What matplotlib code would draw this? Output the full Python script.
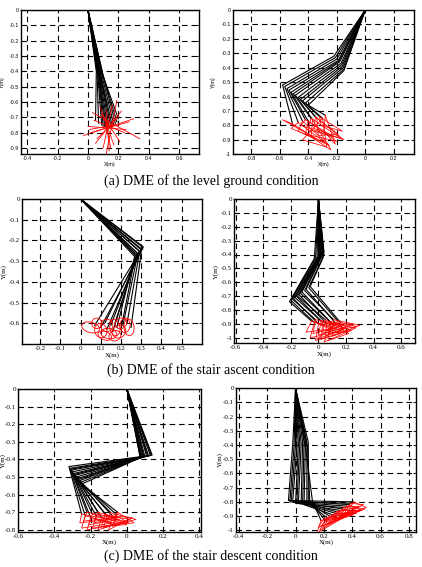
import numpy as np
import matplotlib
matplotlib.use('Agg')
import matplotlib.pyplot as plt
from matplotlib.patches import Ellipse

plt.rcParams['axes.unicode_minus'] = False

# ---- panel (a) left : level ground, knee / ankle, red foot lines ----
a1_knee_x = [0.055, 0.06, 0.065, 0.07, 0.072, 0.075, 0.08, 0.085, 0.088, 0.09, 0.095, 0.10, 0.098, 0.092]
a1_knee_y = [-0.40, -0.41, -0.42, -0.42, -0.43, -0.43, -0.44, -0.44, -0.45, -0.45, -0.44, -0.43, -0.42, -0.41]
a1_ankle_x = [0.05, 0.07, 0.09, 0.10, 0.11, 0.12, 0.13, 0.14, 0.15, 0.16, 0.17, 0.18, 0.19, 0.20]
a1_ankle_y = [-0.72, -0.74, -0.75, -0.76, -0.76, -0.77, -0.77, -0.77, -0.76, -0.76, -0.75, -0.74, -0.73, -0.71]
a1_heel_x = [-0.03, 0.03, 0.12, 0.00, 0.05, 0.17, 0.02, 0.10, 0.04, 0.14, 0.06, 0.09, 0.01, 0.15]
a1_heel_y = [-0.82, -0.67, -0.94, -0.76, -0.87, -0.88, -0.80, -0.90, -0.72, -0.92, -0.84, -0.68, -0.78, -0.90]
a1_toe_x = [0.30, 0.34, 0.19, 0.25, 0.22, 0.08, 0.27, 0.16, 0.24, 0.12, 0.20, 0.21, 0.18, 0.11]
a1_toe_y = [-0.71, -0.84, -0.59, -0.78, -0.66, -0.63, -0.73, -0.62, -0.80, -0.66, -0.70, -0.86, -0.75, -0.70]

# ---- panel (a) right : level ground, three joints + foot triangle ----
a2_j1_x = [-0.22, -0.21, -0.20, -0.19, -0.185, -0.18, -0.17, -0.165, -0.16, -0.155, -0.15, -0.15]
a2_j1_y = [-0.32, -0.33, -0.34, -0.35, -0.355, -0.36, -0.37, -0.38, -0.39, -0.40, -0.41, -0.42]
a2_j2_x = [-0.58, -0.565, -0.55, -0.535, -0.52, -0.505, -0.49, -0.47, -0.455, -0.44, -0.42, -0.40]
a2_j2_y = [-0.52, -0.53, -0.545, -0.555, -0.57, -0.58, -0.59, -0.605, -0.62, -0.63, -0.645, -0.66]
a2_j3_x = [-0.51, -0.47, -0.44, -0.42, -0.40, -0.38, -0.37, -0.35, -0.34, -0.32, -0.30, -0.28]
a2_j3_y = [-0.79, -0.78, -0.77, -0.76, -0.77, -0.75, -0.76, -0.74, -0.75, -0.74, -0.75, -0.73]
a2_heel_x = [-0.58, -0.52, -0.47, -0.45, -0.42, -0.40, -0.38, -0.36, -0.33, -0.31, -0.44, -0.29]
a2_heel_y = [-0.76, -0.82, -0.84, -0.80, -0.86, -0.83, -0.88, -0.82, -0.87, -0.80, -0.90, -0.84]
a2_toe_x = [-0.33, -0.28, -0.25, -0.22, -0.20, -0.17, -0.24, -0.15, -0.19, -0.16, -0.27, -0.21]
a2_toe_y = [-0.90, -0.92, -0.94, -0.88, -0.91, -0.89, -0.97, -0.90, -0.86, -0.84, -0.95, -0.93]

# ---- panel (b) left : stair ascent, knee / ankle + red foot loops ----
b1_knee_x = [0.31, 0.31, 0.30, 0.30, 0.29, 0.28, 0.28, 0.27, 0.27, 0.28, 0.29, 0.30]
b1_knee_y = [-0.23, -0.235, -0.24, -0.245, -0.25, -0.26, -0.27, -0.27, -0.28, -0.28, -0.27, -0.26]
b1_ankle_x = [0.07, 0.10, 0.12, 0.13, 0.15, 0.16, 0.17, 0.18, 0.20, 0.21, 0.23, 0.25]
b1_ankle_y = [-0.61, -0.62, -0.60, -0.63, -0.61, -0.64, -0.60, -0.62, -0.63, -0.61, -0.60, -0.62]
b1_loop_x = [0.05, 0.10, 0.13, 0.14, 0.17, 0.19, 0.22, 0.24, 0.12, 0.17, 0.08, 0.20]
b1_loop_y = [-0.62, -0.635, -0.61, -0.65, -0.62, -0.64, -0.61, -0.62, -0.66, -0.66, -0.60, -0.60]
b1_loop_w = [0.09, 0.06, 0.06, 0.08, 0.05, 0.07, 0.05, 0.05, 0.07, 0.06, 0.05, 0.06]
b1_loop_h = [0.05, 0.07, 0.06, 0.05, 0.08, 0.06, 0.07, 0.08, 0.04, 0.05, 0.05, 0.05]
b1_loop_ang = [-15, 20, 0, -10, 10, 30, -5, 5, -20, 15, 0, 25]

# ---- panel (b) right : stair ascent ----
b2_j1_x = [-0.03, -0.02, -0.01, 0.0, 0.005, 0.01, 0.015, 0.02, 0.025, 0.03, 0.035, 0.04, 0.04, 0.035]
b2_j1_y = [-0.43, -0.42, -0.42, -0.41, -0.41, -0.40, -0.40, -0.40, -0.39, -0.39, -0.38, -0.38, -0.40, -0.42]
b2_j2_x = [-0.21, -0.20, -0.19, -0.18, -0.17, -0.16, -0.15, -0.14, -0.13, -0.12, -0.10, -0.09, -0.07, -0.06]
b2_j2_y = [-0.74, -0.73, -0.72, -0.72, -0.71, -0.70, -0.70, -0.69, -0.68, -0.67, -0.66, -0.65, -0.64, -0.63]
b2_j3_x = [-0.05, -0.03, -0.02, 0.0, 0.02, 0.03, 0.05, 0.06, 0.08, 0.09, 0.11, 0.12, 0.14, 0.16]
b2_j3_y = [-0.88, -0.89, -0.87, -0.90, -0.88, -0.89, -0.87, -0.90, -0.88, -0.89, -0.87, -0.89, -0.88, -0.89]
b2_heel_x = [-0.09, -0.06, -0.04, -0.02, 0.0, 0.02, 0.03, 0.05, 0.07, 0.08, 0.10, 0.04, -0.01, 0.06]
b2_heel_y = [-0.96, -1.00, -0.97, -1.02, -0.98, -1.01, -0.96, -0.99, -1.02, -0.97, -0.99, -1.03, -1.01, -0.95]
b2_toe_x = [0.14, 0.17, 0.19, 0.16, 0.21, 0.23, 0.20, 0.25, 0.27, 0.24, 0.30, 0.22, 0.18, 0.28]
b2_toe_y = [-0.93, -0.95, -0.91, -0.97, -0.92, -0.94, -0.96, -0.90, -0.93, -0.95, -0.91, -0.97, -0.94, -0.92]

# ---- panel (c) left : stair descent ----
c1_j1_x = [0.14, 0.135, 0.13, 0.12, 0.115, 0.11, 0.10, 0.095, 0.09, 0.085, 0.08, 0.078, 0.075, 0.074]
c1_j1_y = [-0.375, -0.376, -0.378, -0.38, -0.38, -0.382, -0.384, -0.385, -0.386, -0.387, -0.388, -0.389, -0.39, -0.39]
c1_j2_x = [-0.32, -0.315, -0.31, -0.305, -0.30, -0.295, -0.29, -0.285, -0.28, -0.275, -0.27, -0.26, -0.255, -0.25]
c1_j2_y = [-0.44, -0.45, -0.455, -0.46, -0.47, -0.48, -0.485, -0.49, -0.50, -0.51, -0.515, -0.52, -0.53, -0.54]
c1_j3_x = [-0.25, -0.23, -0.22, -0.20, -0.19, -0.17, -0.16, -0.14, -0.12, -0.11, -0.09, -0.08, -0.06, -0.05]
c1_j3_y = [-0.71, -0.72, -0.70, -0.73, -0.71, -0.72, -0.70, -0.73, -0.71, -0.72, -0.70, -0.72, -0.71, -0.70]
c1_heel_x = [-0.26, -0.25, -0.24, -0.22, -0.21, -0.19, -0.18, -0.16, -0.14, -0.13, -0.11, -0.10, -0.08, -0.07]
c1_heel_y = [-0.76, -0.79, -0.75, -0.80, -0.77, -0.79, -0.76, -0.80, -0.78, -0.79, -0.76, -0.80, -0.78, -0.77]
c1_toe_x = [-0.10, -0.08, -0.06, -0.07, -0.04, -0.03, -0.05, -0.01, 0.0, 0.02, 0.01, 0.03, 0.05, 0.04]
c1_toe_y = [-0.74, -0.76, -0.73, -0.77, -0.74, -0.76, -0.73, -0.75, -0.77, -0.74, -0.76, -0.73, -0.74, -0.76]

# ---- panel (c) right : stair descent ----
c2_j1_x = [-0.02, -0.01, 0.0, 0.01, 0.02, 0.03, 0.04, 0.05, 0.06, 0.07, 0.08, 0.09, 0.085, 0.075]
c2_j1_y = [-0.40, -0.40, -0.40, -0.40, -0.39, -0.39, -0.39, -0.38, -0.38, -0.38, -0.38, -0.38, -0.42, -0.45]
c2_j2_x = [-0.05, -0.04, -0.03, -0.02, 0.0, 0.01, 0.02, 0.04, 0.05, 0.06, 0.08, 0.09, 0.10, 0.12]
c2_j2_y = [-0.79, -0.80, -0.79, -0.80, -0.81, -0.80, -0.81, -0.80, -0.81, -0.82, -0.80, -0.81, -0.79, -0.80]
c2_j3_x = [0.41, 0.39, 0.38, 0.36, 0.34, 0.33, 0.31, 0.29, 0.28, 0.26, 0.24, 0.22, 0.20, 0.18]
c2_j3_y = [-0.80, -0.81, -0.82, -0.83, -0.84, -0.85, -0.86, -0.87, -0.88, -0.89, -0.90, -0.91, -0.92, -0.93]
c2_heel_x = [0.36, 0.33, 0.31, 0.30, 0.27, 0.26, 0.24, 0.22, 0.21, 0.19, 0.18, 0.17, 0.16, 0.15]
c2_heel_y = [-0.88, -0.90, -0.89, -0.92, -0.93, -0.92, -0.95, -0.96, -0.94, -0.98, -0.97, -1.00, -0.98, -1.02]
c2_toe_x = [0.50, 0.48, 0.47, 0.49, 0.45, 0.44, 0.46, 0.42, 0.43, 0.40, 0.41, 0.38, 0.36, 0.34]
c2_toe_y = [-0.84, -0.82, -0.86, -0.85, -0.83, -0.87, -0.86, -0.84, -0.88, -0.87, -0.89, -0.88, -0.90, -0.91]

# ---- axis ticks ----
a1_xticks = [-0.4, -0.2, 0, 0.2, 0.4, 0.6]
a1_yticks = [0, -0.1, -0.2, -0.3, -0.4, -0.5, -0.6, -0.7, -0.8, -0.9]
a2_xticks = [-0.8, -0.6, -0.4, -0.2, 0, 0.2]
a2_yticks = [0, -0.1, -0.2, -0.3, -0.4, -0.5, -0.6, -0.7, -0.8, -0.9, -1]
b1_xticks = [-0.2, -0.1, 0, 0.1, 0.2, 0.3, 0.4, 0.5]
b1_yticks = [0, -0.1, -0.2, -0.3, -0.4, -0.5, -0.6]
b2_xticks = [-0.6, -0.4, -0.2, 0, 0.2, 0.4, 0.6]
b2_yticks = [0, -0.1, -0.2, -0.3, -0.4, -0.5, -0.6, -0.7, -0.8, -0.9, -1]
c1_xticks = [-0.6, -0.4, -0.2, 0, 0.2, 0.4]
c1_yticks = [0, -0.1, -0.2, -0.3, -0.4, -0.5, -0.6, -0.7, -0.8]
c2_xticks = [-0.4, -0.2, 0, 0.2, 0.4, 0.6, 0.8]
c2_yticks = [0, -0.1, -0.2, -0.3, -0.4, -0.5, -0.6, -0.7, -0.8, -0.9, -1]

captions = ['(a) DME of the level ground condition',
            '(b) DME of the stair ascent condition',
            '(c) DME of the stair descent condition']

SERIF = 'Liberation Serif'
SANS = 'Liberation Sans'
W, H = 422, 567


def fmt(t):
    s = '%g' % round(t, 1)
    return '0' if s in ('0', '-0') else s


def draw_legs(ax, joints_x, joints_y, heel_x=None, heel_y=None, toe_x=None, toe_y=None, closed=True):
    # every frame: hip (0,0) -> joints ..., then the red foot
    n = len(joints_x[0])
    for i in range(n):
        xs = [0] + [j[i] for j in joints_x]
        ys = [0] + [j[i] for j in joints_y]
        ax.plot(xs, ys, color='black', lw=0.8, zorder=3)
    if heel_x is None:
        return
    for i in range(n):
        ex, ey = joints_x[-1][i], joints_y[-1][i]
        if closed:
            ax.plot([ex, heel_x[i], toe_x[i], ex], [ey, heel_y[i], toe_y[i], ey],
                    color='red', lw=0.55, zorder=4)
        else:
            ax.plot([heel_x[i], toe_x[i]], [heel_y[i], toe_y[i]], color='red', lw=0.6, zorder=4)


def make_axes(box, xlim, ylim, xticks, yticks, family, size, ylab_px):
    # box = (left, top, right, bottom) in pixels of the 422x567 picture
    l, t, r, b = box
    ax = fig.add_axes([l / W, 1 - b / H, (r - l) / W, (b - t) / H])
    ax.set_xlim(xlim)
    ax.set_ylim(ylim)
    ax.set_xticks(xticks)
    ax.set_yticks(yticks)
    ax.set_xticklabels([fmt(v) for v in xticks], family=family, fontsize=size)
    ax.set_yticklabels([fmt(v) for v in yticks], family=family, fontsize=size)
    ax.grid(True, color='black', linestyle=(0, (5, 3.5)), lw=0.8, zorder=1)
    ax.set_axisbelow(True)
    ax.tick_params(direction='in', top=True, right=True, length=2, width=0.6, pad=1.5)
    for sp in ax.spines.values():
        sp.set_linewidth(1.0)
    ax.set_xlabel('X(m)', family=family, fontsize=size, labelpad=0.5)
    ax.set_ylabel('Y(m)', family=family, fontsize=size)
    ax.yaxis.set_label_coords((ylab_px - l) / (r - l), 0.5)
    return ax


fig = plt.figure(figsize=(4.22, 5.67), dpi=100)

# top row
ax1 = make_axes((21, 10, 199, 154), (-0.44, 0.73), (-0.94, 0), a1_xticks, a1_yticks, SANS, 3.8, 5)
draw_legs(ax1, [a1_knee_x, a1_ankle_x], [a1_knee_y, a1_ankle_y],
          a1_heel_x, a1_heel_y, a1_toe_x, a1_toe_y, closed=False)

ax2 = make_axes((232.7, 10, 413.7, 154.3), (-0.93, 0.34), (-1.0, 0), a2_xticks, a2_yticks, SANS, 3.8, 216)
draw_legs(ax2, [a2_j1_x, a2_j2_x, a2_j3_x], [a2_j1_y, a2_j2_y, a2_j3_y],
          a2_heel_x, a2_heel_y, a2_toe_x, a2_toe_y)

# middle row
ax3 = make_axes((22, 199, 201.7, 344), (-0.29, 0.6), (-0.7, 0), b1_xticks, b1_yticks, SERIF, 5, 7)
draw_legs(ax3, [b1_knee_x, b1_ankle_x], [b1_knee_y, b1_ankle_y])
for cx, cy, w, h, ang in zip(b1_loop_x, b1_loop_y, b1_loop_w, b1_loop_h, b1_loop_ang):
    ax3.add_patch(Ellipse((cx, cy), w, h, angle=ang, fill=False, ec='red', lw=0.6, zorder=4))

ax4 = make_axes((234.3, 199, 415, 343.3), (-0.61, 0.7), (-1.04, 0), b2_xticks, b2_yticks, SERIF, 5, 219)
draw_legs(ax4, [b2_j1_x, b2_j2_x, b2_j3_x], [b2_j1_y, b2_j2_y, b2_j3_y],
          b2_heel_x, b2_heel_y, b2_toe_x, b2_toe_y)

# bottom row
ax5 = make_axes((18.3, 389, 201, 531.7), (-0.6, 0.41), (-0.81, 0), c1_xticks, c1_yticks, SERIF, 5, 5.5)
draw_legs(ax5, [c1_j1_x, c1_j2_x, c1_j3_x], [c1_j1_y, c1_j2_y, c1_j3_y],
          c1_heel_x, c1_heel_y, c1_toe_x, c1_toe_y)

ax6 = make_axes((236, 388.3, 416, 531.7), (-0.42, 0.85), (-1.01, 0), c2_xticks, c2_yticks, SERIF, 5, 223)
draw_legs(ax6, [c2_j1_x, c2_j2_x, c2_j3_x], [c2_j1_y, c2_j2_y, c2_j3_y],
          c2_heel_x, c2_heel_y, c2_toe_x, c2_toe_y)

# captions under each row
for txt, ypix in zip(captions, [181, 370, 556]):
    fig.text(0.5, 1 - ypix / H, txt, ha='center', va='center', family=SERIF, fontsize=10)

fig.savefig('out.png', dpi=100)
